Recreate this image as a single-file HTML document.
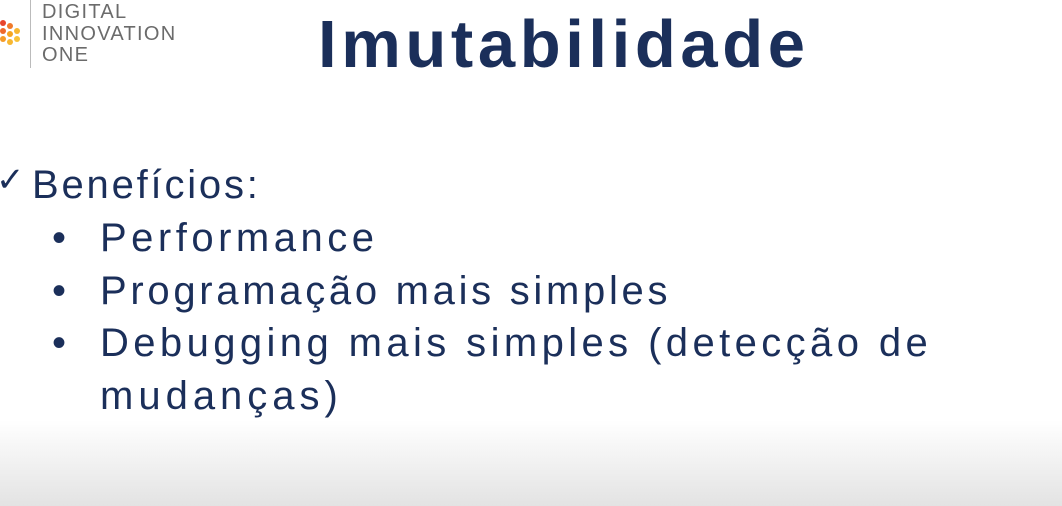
<!DOCTYPE html>
<html><head><meta charset="utf-8"><style>
html,body{margin:0;padding:0}
body{width:1062px;height:506px;position:relative;overflow:hidden;font-family:"Liberation Sans",sans-serif;
background:linear-gradient(to bottom,#fff 0,#fff 420px,#e3e3e3 506px);color:#1b2f5a}
.t{position:absolute;white-space:nowrap}
</style></head><body>
<svg class="t" style="left:0;top:14px" width="24" height="40">
<circle cx="3" cy="9" r="3" fill="#e8452c"/><circle cx="10" cy="12" r="3" fill="#f07a2a"/>
<circle cx="3" cy="17" r="3" fill="#ef6a2b"/><circle cx="10" cy="20" r="3" fill="#f5a623"/>
<circle cx="17" cy="17" r="3" fill="#f7b731"/><circle cx="3" cy="25" r="3" fill="#f59b27"/>
<circle cx="10" cy="28" r="3" fill="#f7b731"/><circle cx="17" cy="25" r="3" fill="#f8c23a"/>
</svg>
<div class="t" style="left:30px;top:0;width:1px;height:68px;background:#bbb"></div>
<div class="t" style="left:42px;top:2px;font-size:20px;line-height:21.5px;color:#6b6b6b;letter-spacing:1.3px">DIGITAL<br>INNOVATION<br>ONE</div>
<div class="t" style="left:318px;top:6px;font-size:67px;font-weight:bold;letter-spacing:4.6px">Imutabilidade</div>
<div class="t" style="left:-4px;top:160px;font-size:34px">✓</div>
<div class="t" style="left:32px;top:163px;font-size:40px;letter-spacing:2.8px">Benefícios:</div>
<div class="t" style="left:52px;top:216px;font-size:40px">•</div>
<div class="t" style="left:100px;top:216px;font-size:40px;letter-spacing:4.5px">Performance</div>
<div class="t" style="left:52px;top:269px;font-size:40px">•</div>
<div class="t" style="left:100px;top:269px;font-size:40px;letter-spacing:3.7px">Programação mais simples</div>
<div class="t" style="left:52px;top:321px;font-size:40px">•</div>
<div class="t" style="left:100px;top:321px;font-size:40px;letter-spacing:4.4px">Debugging mais simples (detecção de</div>
<div class="t" style="left:100px;top:374px;font-size:40px;letter-spacing:5px">mudanças)</div>
</body></html>
